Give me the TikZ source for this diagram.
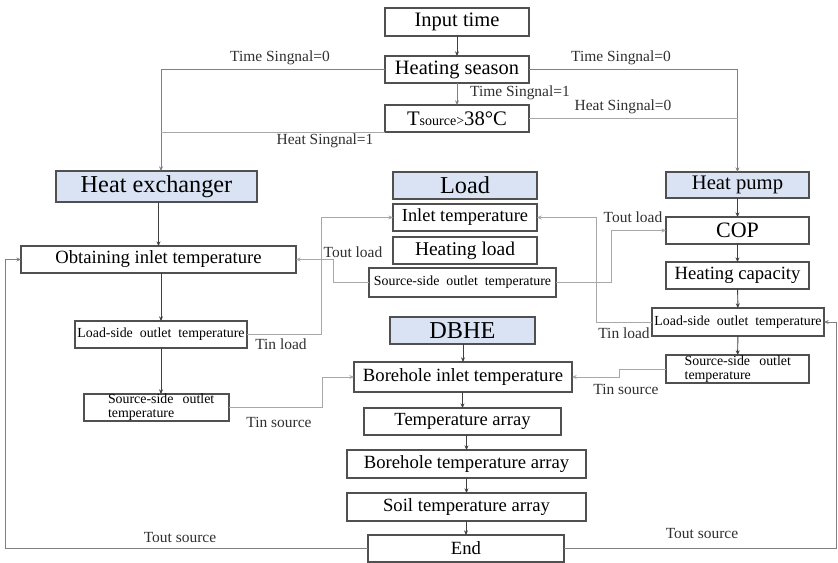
\documentclass[tikz,border=0pt]{standalone}
\usepackage{fontspec}
\setmainfont{Liberation Serif}
\usetikzlibrary{arrows.meta}
\definecolor{boxc}{HTML}{505050}
\definecolor{hdrblue}{HTML}{DAE3F3}
\definecolor{mainln}{HTML}{404040}
\definecolor{sigln}{HTML}{808080}
\definecolor{xln}{HTML}{A8A8A8}
\definecolor{lblc}{HTML}{303030}
\newcommand\fs[1]{\fontsize{#1}{#1}\selectfont}
\newcommand\bnode[7]{\node[#6, minimum width={(#4-#2)*0.75pt}, minimum height={(#5-#3)*0.75pt}] (#1) at ({(#2+#4)/2},{(#3+#5)/2}) {#7};}
\tikzset{
  box/.style={draw=boxc, line width=0.8pt, fill=white, inner sep=0pt, outer sep=0pt, text=black},
  hdr/.style={box, fill=hdrblue},
  tip/.style={-{Stealth[length=3.5pt,width=3pt]}},
  mainarr/.style={draw=mainln, line width=0.7pt, tip},
  sigline/.style={draw=sigln, line width=0.7pt},
  sigarr/.style={sigline, tip},
  xline/.style={draw=xln, line width=0.75pt},
  xarr/.style={xline, tip},
  lbl/.style={inner sep=0pt, text=lblc, font=\fs{11.6}},
}
\begin{document}
\begin{tikzpicture}[x=0.75pt, y=-0.75pt]
\useasboundingbox[fill=white] (0,0) rectangle (838,563);

% top column
\bnode{in}{385}{8}{529}{36}{box, font=\fs{15.4}}{Input time}
\bnode{hs}{385}{56}{529}{83}{box, font=\fs{15.3}}{Heating season}
\bnode{ts}{385}{105}{529}{132}{box}{{\fs{15.5}T}{\fs{10.5}source>}{\fs{15.5}38°C}}

% headers
\bnode{hx}{56}{171}{257}{202}{hdr, font=\fs{18.2}}{Heat exchanger}
\bnode{ld}{393}{172}{537}{199}{hdr, font=\fs{18.2}}{Load}
\bnode{hp}{666}{172}{809}{198}{hdr, font=\fs{15.5}}{Heat pump}
\bnode{db}{390}{317}{535}{344}{hdr, font=\fs{18.2}}{DBHE}

% load column
\bnode{it}{393}{204}{537}{231}{box, font=\fs{13.8}}{Inlet temperature}
\bnode{hl}{393}{237}{537}{264}{box, font=\fs{14.6}}{Heating load}
\bnode{lso}{369}{268}{556}{297}{box, font=\fs{10.4}}{Source-side\ \ outlet\ \ temperature}

% DBHE column
\bnode{bi}{354}{362}{572}{392}{box, font=\fs{14}}{Borehole inlet temperature}
\bnode{ta}{364}{408}{561}{435}{box, font=\fs{13.9}}{Temperature array}
\bnode{ba}{347}{450}{586}{478}{box, font=\fs{14}}{Borehole temperature array}
\bnode{sa}{347}{493}{586}{521}{box, font=\fs{14}}{Soil temperature array}
\bnode{en}{368}{535}{564}{562}{box, font=\fs{14}}{End}

% heat exchanger column
\bnode{oi}{21}{246}{296}{273}{box, font=\fs{14}}{Obtaining inlet temperature}
\bnode{xl}{75}{321}{247}{348}{box, font=\fs{10.4}}{Load-side\ \ outlet\ \ temperature}
\bnode{xs}{84}{394}{229}{421}{box, align=left, text width={145*0.75pt}, font=\fontsize{10.4}{10.6}\selectfont}{\hspace*{18pt}Source-side\ \ outlet\\\hspace*{18pt}temperature}

% heat pump column
\bnode{cop}{666}{217}{809}{244}{box, font=\fs{16.5}}{COP}
\bnode{hc}{666}{262}{809}{289}{box, font=\fs{14}}{Heating capacity}
\bnode{pl}{652}{308}{824}{336}{box, font=\fs{10.4}}{Load-side\ \ outlet\ \ temperature}
\bnode{ps}{666}{355}{809}{383}{box, align=left, text width={143*0.75pt}, font=\fontsize{10.4}{10.8}\selectfont}{\hspace*{14pt}Source-side\ \ outlet\\\hspace*{14pt}temperature}

% vertical flow arrows
\draw[mainarr] (in) -- (hs);
\draw[sigarr] (hs) -- (ts);
\draw[mainarr] (hx.south -| oi.north) -- (oi.north);
\draw[mainarr] (oi.south -| xl.north) -- (xl.north);
\draw[mainarr] (xl.south) -- (xl.south |- xs.north);
\draw[mainarr] (hp) -- (cop);
\draw[mainarr] (cop) -- (hc);
\draw[mainarr] (hc) -- (pl);
\draw[mainarr] (pl) -- (ps);
\draw[mainarr] (db.south -| bi.north) -- (bi.north);
\draw[mainarr] (bi.south -| ta.north) -- (ta.north);
\draw[mainarr] (ta.south -| ba.north) -- (ba.north);
\draw[mainarr] (ba) -- (sa);
\draw[mainarr] (sa.south -| en.north) -- (en.north);

% signal branches
\coordinate (hxin) at (161,171);
\draw[sigarr] (hs.west) -| (hxin);
\draw[sigline, draw=xln] (ts.south west) -- (ts.south west -| hxin);
\draw[sigarr] (hs.east) -| (hp.north);
\draw[sigline, draw=xln] (ts.east) -- (ts.east -| hp.north);

% cross connectors
\draw[xarr] (xl.east) -- ++(74,0) |- (it.west);
\draw[xarr] (lso.west) -- ++(-36,0) |- (oi.east);
\draw[xarr] (xs.east) -- ++(93,0) |- (bi.west);
\draw[xarr] (lso.east) -- ++(55,0) |- (cop.west);
\draw[xarr] (pl.west) -- ++(-56,0) |- (it.east);
\draw[xarr] (ps.west) -- ++(-47,0) |- (bi.east);

% feedback loops
\draw[sigarr] (en.west) -- ++(-363,0) |- (oi.west);
\draw[sigarr] (en.east) -- ++(272,0) |- (pl.east);

% labels
\node[lbl] (l1) at (280,58) {Time Singnal=0};
\node[lbl] (l2) at (325,141) {Heat Singnal=1};
\node[lbl] (l3) at (621,58) {Time Singnal=0};
\node[lbl] (l4) at (623,107) {Heat Singnal=0};
\node[lbl] (l5) at (520,93) {Time Singnal=1};
\node[lbl] (l6) at (281,344) {Tin load};
\node[lbl] (l7) at (353,252) {Tout load};
\node[lbl] (l8) at (279,422) {Tin source};
\node[lbl] (l9) at (633,217) {Tout load};
\node[lbl] (l10) at (624,333) {Tin load};
\node[lbl] (l11) at (626,389) {Tin source};
\node[lbl] (l12) at (180,538) {Tout source};
\node[lbl] (l13) at (702,534) {Tout source};
\end{tikzpicture}
\end{document}
